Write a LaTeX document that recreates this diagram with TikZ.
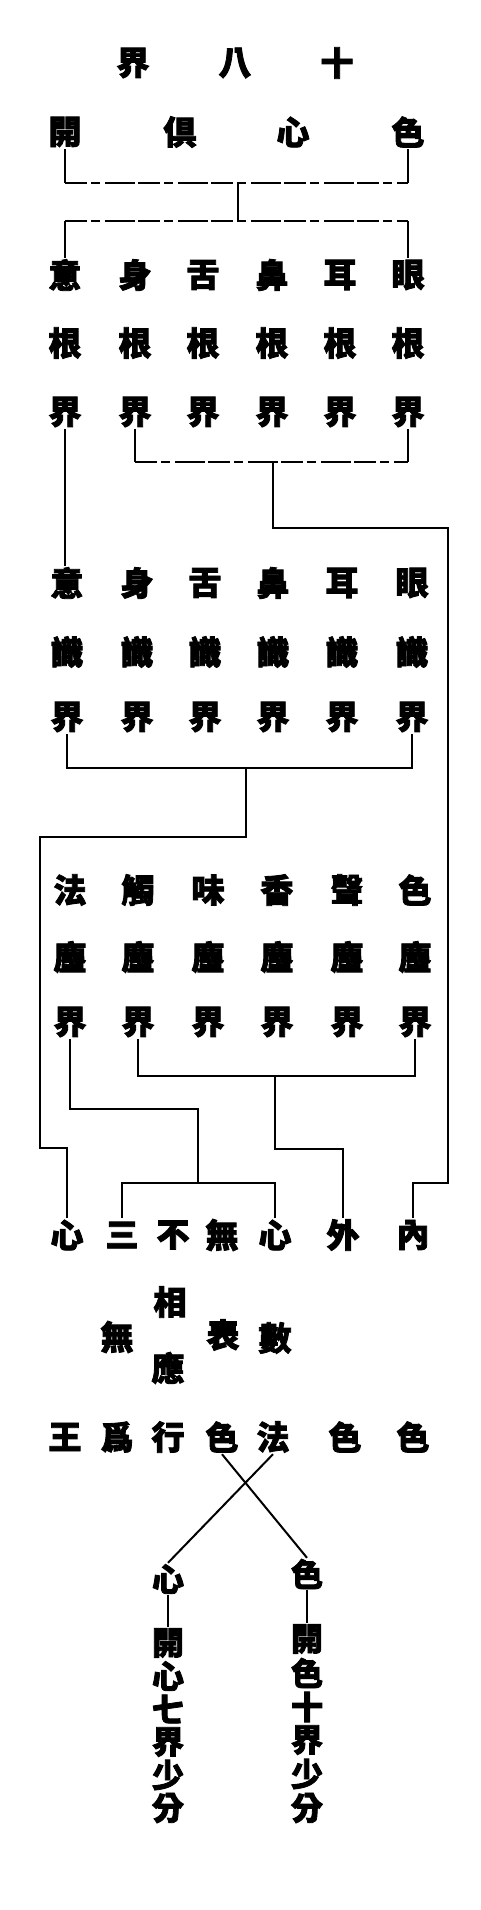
\documentclass[tikz,border=0pt]{standalone}
\usepackage{fontspec}
\newfontfamily\cjk{Noto Sans CJK TC}[BoldFeatures={FakeBold=2.5}]
\begin{document}
\begin{tikzpicture}[x=1pt,y=-1pt,
  ch/.style={inner sep=0pt,minimum width=34pt,minimum height=34pt,font=\cjk\bfseries\fontsize{33}{33}\selectfont},
  cc/.style={inner sep=0pt,minimum width=32pt,minimum height=32pt,font=\cjk\bfseries\fontsize{32}{32}\selectfont},
  ln/.style={line width=2pt,black},
  br/.style={line width=2pt,black,dash pattern=on 22pt off 4pt on 9pt off 5pt on 30pt off 3pt}]
\useasboundingbox (0,0) rectangle (480,1910);
% title
\node[ch] (t1) at (133,63) {界};
\node[ch] (t2) at (235,63) {八};
\node[ch] (t3) at (337,63) {十};
% row A
\node[ch] (a1) at (65,132) {開};
\node[ch] (a2) at (180,132) {倶};
\node[ch] (a3) at (293,132) {心};
\node[ch] (a4) at (408,132) {色};
% rows B C D
\foreach \n/\x/\c in {1/65/意,2/135/身,3/203/舌,4/272/鼻,5/340/耳,6/408/眼}{
  \node[ch] (b\n) at (\x,275) {\c};
  \node[ch] (c\n) at (\x,343) {根};
  \node[ch] (d\n) at (\x,412) {界};
}
% rows E F G
\foreach \n/\x/\c in {1/67/意,2/137/身,3/205/舌,4/273/鼻,5/342/耳,6/412/眼}{
  \node[ch] (e\n) at (\x,583) {\c};
  \node[ch] (f\n) at (\x,652) {識};
  \node[ch] (g\n) at (\x,717) {界};
}
% rows H I J
\foreach \n/\x/\c in {1/70/法,2/138/觸,3/208/味,4/277/香,5/347/聲,6/415/色}{
  \node[ch] (h\n) at (\x,890) {\c};
  \node[ch] (i\n) at (\x,957) {塵};
  \node[ch] (j\n) at (\x,1022) {界};
}
% row K
\foreach \n/\x/\c in {1/67/心,2/122/三,3/173/不,4/222/無,5/275/心,6/343/外,7/413/內}{
  \node[ch] (k\n) at (\x,1235) {\c};
}
% middle
\node[ch] (m1) at (117,1337) {無};
\node[ch] (m2) at (170,1302) {相};
\node[ch] (m3) at (168,1368) {應};
\node[ch] (m4) at (223,1335) {表};
\node[ch] (m5) at (275,1338) {數};
% row L
\foreach \n/\x/\c in {1/65/王,2/117/爲,3/168/行,4/222/色,5/273/法,6/345/色,7/413/色}{
  \node[ch] (l\n) at (\x,1437) {\c};
}
% left column
\node[cc] (p1) at (168,1579) {心};
\node[cc] (p2) at (168,1643) {開};
\node[cc] (p3) at (168,1676) {心};
\node[cc] (p4) at (168,1709) {七};
\node[cc] (p5) at (168,1742) {界};
\node[cc] (p6) at (168,1775) {少};
\node[cc] (p7) at (168,1808) {分};
% right column
\node[cc] (q1) at (307,1574) {色};
\node[cc] (q2) at (307,1639) {開};
\node[cc] (q3) at (307,1673) {色};
\node[cc] (q4) at (307,1707) {十};
\node[cc] (q5) at (307,1740) {界};
\node[cc] (q6) at (307,1774) {少};
\node[cc] (q7) at (307,1808) {分};
% junction coordinates
\coordinate (x1) at (238,183);
\coordinate (x2) at (238,221);
\coordinate (y1) at (273,462);
\coordinate (y2) at (448,528);
\coordinate (y3) at (448,1183);
\coordinate (z1) at (246,768);
\coordinate (z2) at (246,837);
\coordinate (z3) at (40,837);
\coordinate (z4) at (40,1148);
\coordinate (u1) at (198,1109);
\coordinate (u2) at (198,1183);
\coordinate (v1) at (275,1076);
\coordinate (v2) at (275,1149);
% connectors
\draw[ln] (a1.south) -- (a1.south |- x1);
\draw[ln] (a4.south) -- (a4.south |- x1);
\draw[br] (a1.south |- x1) -- (a4.south |- x1);
\draw[ln] (x1) -- (x2);
\draw[br] (b1.north |- x2) -- (b6.north |- x2);
\draw[ln] (b1.north |- x2) -- (b1.north);
\draw[ln] (b6.north |- x2) -- (b6.north);
\draw[ln] (d1.south) -- (d1.south |- e1.north);
\draw[ln] (d2.south) -- (d2.south |- y1);
\draw[ln] (d6.south) -- (d6.south |- y1);
\draw[br] (d2.south |- y1) -- (d6.south |- y1);
\draw[ln] (y1) -- (y1 |- y2) -- (y2) -- (y3) -- (k7.north |- y3) -- (k7.north);
\draw[ln] (g1.south) -- (g1.south |- z1) -- (g6.south |- z1) -- (g6.south);
\draw[ln] (z1) -- (z2) -- (z3) -- (z4) -- (k1.north |- z4) -- (k1.north);
\draw[ln] (j1.south) -- (j1.south |- u1) -- (u1) -- (u2);
\draw[ln] (k2.north) -- (k2.north |- u2) -- (k5.north |- u2) -- (k5.north);
\draw[ln] (j2.south) -- (j2.south |- v1) -- (j6.south |- v1) -- (j6.south);
\draw[ln] (v1) -- (v2) -- (k6.north |- v2) -- (k6.north);
\draw[ln] (l4.south) -- (q1.north);
\draw[ln] (l5.south) -- (p1.north);
\draw[ln] (p1.south) -- (p2.north);
\draw[ln] (q1.south) -- (q2.north);
\end{tikzpicture}
\end{document}
